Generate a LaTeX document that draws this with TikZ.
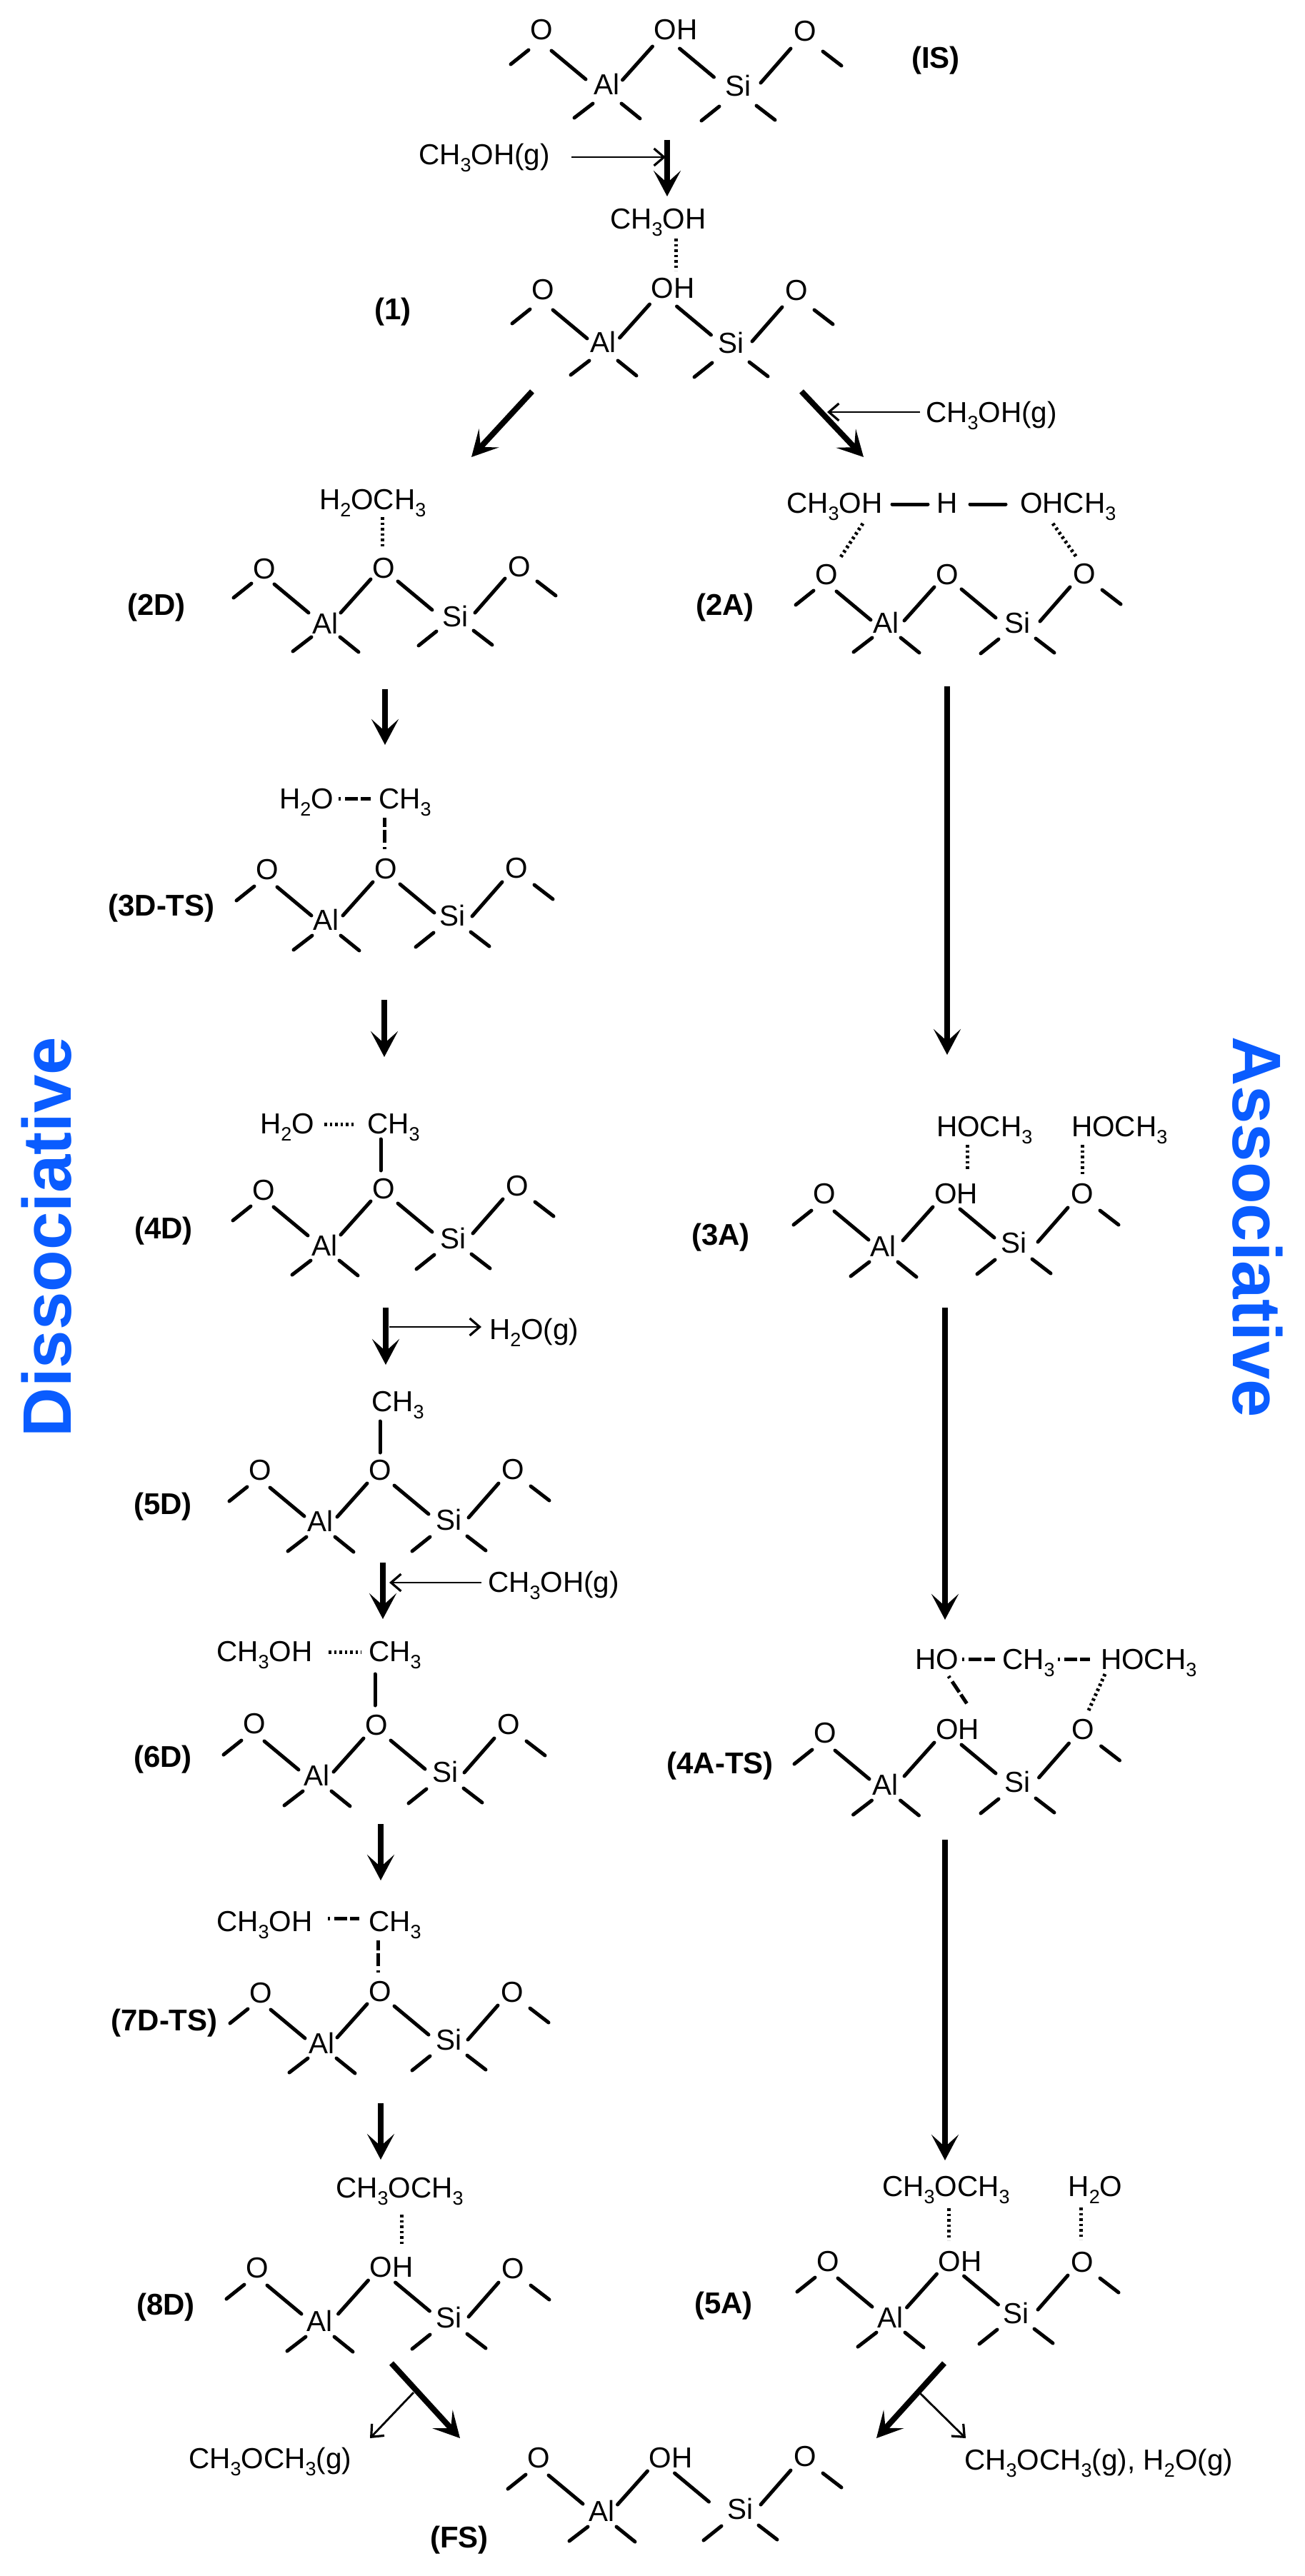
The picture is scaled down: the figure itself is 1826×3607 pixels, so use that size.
\documentclass[tikz,border=0pt]{standalone}
\usepackage{fontspec}
\setmainfont{Liberation Sans}
\usetikzlibrary{arrows.meta}
\newcommand{\sbs}[1]{\raisebox{-10pt}{\fontsize{27pt}{27pt}\selectfont #1}}
\tikzset{
  x=1pt,y=-1pt,
  atom/.style={inner sep=0pt,font=\fontsize{40.5pt}{44pt}\selectfont},
  chem/.style={inner sep=0pt,anchor=base west,yshift=-14.5pt,font=\fontsize{40.5pt}{44pt}\selectfont},
  tag/.style={inner sep=0pt,font=\fontsize{42pt}{46pt}\selectfont\bfseries},
  side/.style={inner sep=0pt,font=\fontsize{96pt}{100pt}\selectfont\bfseries,text=bluelabel},
  bond/.style={draw=black,line width=5pt,line cap=round},
  dotbond/.style={draw=black,line width=5pt,dash pattern=on 3.5pt off 4pt},
  tsbond/.style={draw=black,line width=5pt,dash pattern=on 3pt off 6pt on 18pt off 4pt on 15pt off 60pt},
  mainarrow/.style={draw=black,line width=8pt,-{Stealth[length=36pt,width=38pt,inset=17pt]}},
  thinarrow/.style={draw=black,line width=2.8pt,-{Straight Barb[length=14pt,width=24pt,line width=3.2pt]}},
}
\definecolor{bluelabel}{RGB}{10,92,255}
% #1 prefix, #2 O1, #3 central O, #4 central text, #5 O2, #6 Al, #7 Si, #8 bond offset
\newcommand{\mol}[8]{%
  \node[atom] (#1-O1) at (#2) {O};
  \node[atom] (#1-C) at (#3) {#4};
  \node[atom] (#1-O2) at (#5) {O};
  \node[atom] (#1-Al) at (#6) {Al};
  \node[atom] (#1-Si) at (#7) {Si};
  \draw[bond] ([shift={(-43,42+#8)}]#1-O1.center) -- ([shift={(-18,22+#8)}]#1-O1.center);
  \draw[bond] ([shift={(14,23+#8)}]#1-O1.center) -- ([shift={(62,63+#8)}]#1-O1.center);
  \draw[bond] ([shift={(-60,64+#8)}]#1-C.center) -- ([shift={(-18,17+#8)}]#1-C.center);
  \draw[bond] ([shift={(20,20+#8)}]#1-C.center) -- ([shift={(68,60+#8)}]#1-C.center);
  \draw[bond] ([shift={(-62,66+#8)}]#1-O2.center) -- ([shift={(-20,18+#8)}]#1-O2.center);
  \draw[bond] ([shift={(25,22+#8)}]#1-O2.center) -- ([shift={(51,42+#8)}]#1-O2.center);
  \draw[bond] ([shift={(-45,41+#8)}]#1-Al.center) -- ([shift={(-19,21+#8)}]#1-Al.center);
  \draw[bond] ([shift={(21,21+#8)}]#1-Al.center) -- ([shift={(47,42+#8)}]#1-Al.center);
  \draw[bond] ([shift={(-51,43+#8)}]#1-Si.center) -- ([shift={(-26,23+#8)}]#1-Si.center);
  \draw[bond] ([shift={(26,22+#8)}]#1-Si.center) -- ([shift={(52,42+#8)}]#1-Si.center);
}
\newcommand{\OH}{O\rlap{H}}
% #1 style, #2 name, #3 start, #4 end
\newcommand{\link}[4]{%
  \coordinate (#2-a) at (#3);
  \coordinate (#2-b) at (#4);
  \draw[#1] (#2-a) -- (#2-b);
}
\begin{document}
\begin{tikzpicture}
\useasboundingbox[fill=white] (0,0) rectangle (1826,3607);

% molecules
\mol{IS}{758,42}{931.5,42}{\OH}{1127,44}{849,118}{1033,120}{6}
\mol{one}{760,406}{927.5,404}{\OH}{1115,407}{844,479}{1023,480}{5}
\mol{twoD}{370,797}{537,796}{O}{727,794}{455,873}{637,863}{-2}
\mol{threeD}{374,1218}{540,1217}{O}{723,1216}{456,1288}{633,1282}{1}
\mol{fourD}{369,1667}{537,1665}{O}{724,1661}{454,1744}{634,1734}{0}
\mol{fiveD}{364,2059}{532,2059}{O}{718,2058}{448,2130}{628,2128}{1}
\mol{sixD}{356,2414}{527,2416}{O}{712,2415}{443,2486}{623,2481}{1}
\mol{sevenD}{365,2791}{532,2789}{O}{717,2790}{450,2861}{628,2856}{0}
\mol{eightD}{360,3176}{533.5,3175}{\OH}{718,3177}{447,3250}{628,3245}{1}
\mol{twoA}{1157,805}{1326,805}{O}{1518,804}{1240,872}{1424,872}{0}
\mol{threeA}{1154,1672}{1324,1672}{\OH}{1515,1672}{1236,1745}{1419,1740}{1}
\mol{fourA}{1155,2427}{1326,2422}{\OH}{1516.5,2422}{1239.5,2499}{1424,2495}{1}
\mol{fiveA}{1159,3167}{1329.5,3167}{\OH}{1515,3168}{1246,3245}{1422,3239}{0}
\mol{FS}{754,3442}{924.5,3442}{\OH}{1127,3440}{842,3516}{1036,3513}{1}

% state tags
\node[tag] (tIS) at (1310,85) {(IS)};
\node[tag] (t1) at (550,437) {(1)};
\node[tag] (t2D) at (219,851) {(2D)};
\node[tag] (t3D) at (226,1272) {(3D-TS)};
\node[tag] (t4D) at (229,1724) {(4D)};
\node[tag] (t5D) at (228,2110) {(5D)};
\node[tag] (t6D) at (228,2464) {(6D)};
\node[tag] (t7D) at (230,2833) {(7D-TS)};
\node[tag] (t8D) at (232,3231) {(8D)};
\node[tag] (t2A) at (1015,851) {(2A)};
\node[tag] (t3A) at (1009,1733) {(3A)};
\node[tag] (t4A) at (1008,2473) {(4A-TS)};
\node[tag] (t5A) at (1013,3229) {(5A)};
\node[tag] (tFS) at (643,3557) {(FS)};

% side titles
\node[side,rotate=90] (dis) at (65,1732) {Dissociative};
\node[side,rotate=-90] (ass) at (1761,1718) {Associative};

% adsorbate labels
\node[chem] (g1) at (586,216) {CH\sbs{3}OH(g)};
\node[chem] (m1) at (854,306) {CH\sbs{3}OH};
\node[chem] (g2) at (1296,577) {CH\sbs{3}OH(g)};
\node[chem] (a2D) at (447,699) {H\sbs{2}OCH\sbs{3}};
\node[chem] (a3D) at (391,1118) {H\sbs{2}O};
\node[chem] (b3D) at (530,1118) {CH\sbs{3}};
\node[chem] (a4D) at (364,1573) {H\sbs{2}O};
\node[chem] (b4D) at (514,1573) {CH\sbs{3}};
\node[chem] (g3) at (685,1861) {H\sbs{2}O(g)};
\node[chem] (b5D) at (520,1962) {CH\sbs{3}};
\node[chem] (g4) at (683,2215) {CH\sbs{3}OH(g)};
\node[chem] (a6D) at (303,2312) {CH\sbs{3}OH};
\node[chem] (b6D) at (516,2312) {CH\sbs{3}};
\node[chem] (a7D) at (303,2690) {CH\sbs{3}OH};
\node[chem] (b7D) at (516,2690) {CH\sbs{3}};
\node[chem] (a8D) at (470,3063) {CH\sbs{3}OCH\sbs{3}};
\node[chem] (g5) at (264,3442) {CH\sbs{3}OCH\sbs{3}(g)};
\node[chem] (a2A) at (1101,704) {CH\sbs{3}OH};
\node[chem,anchor=base] (b2A) at (1326,704) {H};
\node[chem] (c2A) at (1428,704) {OHCH\sbs{3}};
\node[chem] (a3A) at (1311,1577) {HOCH\sbs{3}};
\node[chem] (b3A) at (1500,1577) {HOCH\sbs{3}};
\node[chem] (a4A) at (1281,2323) {HO};
\node[chem] (b4A) at (1403,2323) {CH\sbs{3}};
\node[chem] (c4A) at (1541,2323) {HOCH\sbs{3}};
\node[chem] (a5A) at (1235,3061) {CH\sbs{3}OCH\sbs{3}};
\node[chem] (b5A) at (1495.5,3061) {H\sbs{2}O};
\node[chem] (g6) at (1350,3444) {CH\sbs{3}OCH\sbs{3}(g), H\sbs{2}O(g)};

% weak / partial bonds
\link{dotbond}{d1}{946,334}{946,379}
\link{dotbond}{d2}{535,724}{535,768}
\link{tsbond}{d3}{474,1118}{519,1118}
\link{tsbond}{d4}{538,1189}{538,1145}
\link{dotbond}{d5}{454,1574}{498,1574}
\link{bond}{d6}{533,1595}{533,1639}
\link{bond}{d7}{532,1990}{532,2034}
\link{dotbond}{d8}{460,2313}{506,2313}
\link{bond}{d9}{525,2344}{525,2388}
\link{tsbond}{d10}{459,2686}{503,2686}
\link{tsbond}{d11}{529,2762}{529,2717}
\link{dotbond}{d12}{562,3101}{562,3145}
\link{bond}{e1}{1249,706}{1299,706}
\link{bond}{e2}{1358,706}{1408,706}
\link{dotbond}{e3}{1208,733}{1177,780}
\link{dotbond}{e4}{1474,733}{1507,780}
\link{dotbond}{e5}{1354,1603}{1354,1640}
\link{dotbond}{e6}{1515,1603}{1515,1646}
\link{tsbond}{e7}{1347,2323}{1393,2323}
\link{tsbond}{e8}{1481,2323}{1526,2323}
\link{tsbond}{e9}{1328,2347}{1360,2395}
\link{dotbond}{e10}{1547,2344}{1524,2395}
\link{dotbond}{e11}{1328,3092}{1328,3137}
\link{dotbond}{e12}{1513,3091}{1513,3136}

% reaction arrows
\link{mainarrow}{r1}{934,196}{934,275}
\link{mainarrow}{r2}{745,548}{660,640}
\link{mainarrow}{r3}{1122,548}{1209,640}
\link{mainarrow}{r4}{539,965}{539,1043}
\link{mainarrow}{r5}{538,1400}{538,1480}
\link{mainarrow}{r6}{540,1831}{540,1911}
\link{mainarrow}{r7}{536,2188}{536,2267}
\link{mainarrow}{r8}{533,2554}{533,2633}
\link{mainarrow}{r9}{533,2945}{533,3024}
\link{mainarrow}{r10}{548,3309}{644,3414}
\link{mainarrow}{r11}{1326,961}{1326,1477}
\link{mainarrow}{r12}{1323,1831}{1323,2268}
\link{mainarrow}{r13}{1323,2576}{1323,3025}
\link{mainarrow}{r14}{1322,3309}{1227,3414}

% gas-phase arrows
\link{thinarrow}{s1}{800,220}{932,220}
\link{thinarrow}{s2}{1288,577}{1158,577}
\link{thinarrow}{s3}{545,1858}{674,1858}
\link{thinarrow}{s4}{674,2216}{545,2216}
\link{thinarrow}{s5}{579,3350}{518,3414}
\link{thinarrow}{s6}{1288,3351}{1352,3414}
\end{tikzpicture}
\end{document}
